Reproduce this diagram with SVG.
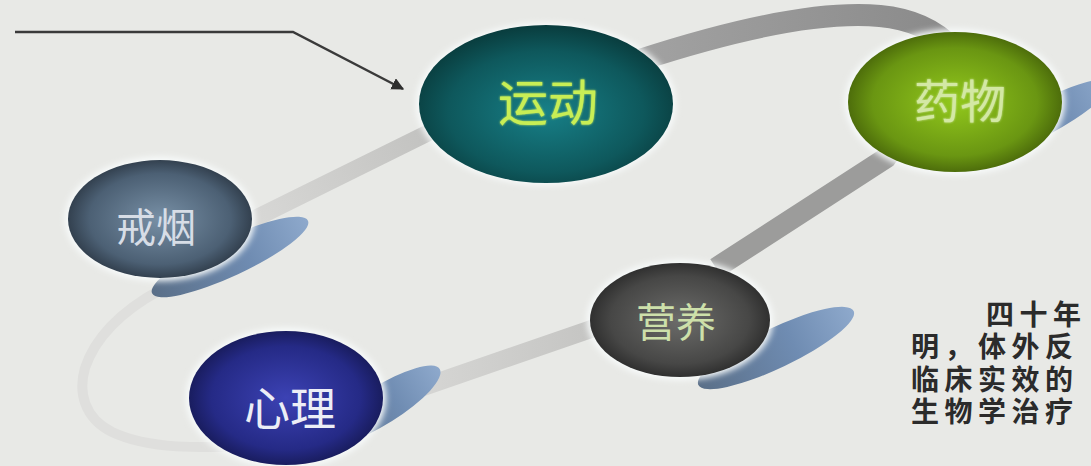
<svg xmlns="http://www.w3.org/2000/svg" width="1091" height="466" viewBox="0 0 1091 466">
  <defs>
    <style>
      .lbl { font-family: "Noto Sans CJK SC", "Noto Sans", sans-serif; text-anchor: middle; dominant-baseline: central; }
      .body { font-family: "Liberation Sans", "Noto Sans CJK SC", sans-serif; font-weight: 700; font-size: 28px; fill: #2b2b2b; letter-spacing: 5.5px; }
      .band { fill: none; stroke-linecap: butt; stroke-linejoin: round; }
      .halo { fill: #f8fbfb; filter: url(#blur); }
      .shadow { fill: url(#gShadow); }
    </style>
    <filter id="blur" x="-20%" y="-20%" width="140%" height="140%">
      <feGaussianBlur stdDeviation="3"/>
    </filter>
    <filter id="glow" x="-20%" y="-20%" width="140%" height="140%">
      <feGaussianBlur stdDeviation="1.2" result="b"/>
      <feMerge><feMergeNode in="b"/><feMergeNode in="SourceGraphic"/></feMerge>
    </filter>
    <radialGradient id="gYd" cx="50%" cy="55%" r="55%">
      <stop offset="0" stop-color="#178088"/>
      <stop offset="0.7" stop-color="#0e585c"/>
      <stop offset="1" stop-color="#093c3d"/>
    </radialGradient>
    <radialGradient id="gYw" cx="50%" cy="50%" r="55%">
      <stop offset="0" stop-color="#92c81c"/>
      <stop offset="0.7" stop-color="#6a9612"/>
      <stop offset="1" stop-color="#415c08"/>
    </radialGradient>
    <radialGradient id="gJy" cx="50%" cy="50%" r="55%">
      <stop offset="0" stop-color="#7890a6"/>
      <stop offset="0.7" stop-color="#4c6074"/>
      <stop offset="1" stop-color="#28333f"/>
    </radialGradient>
    <radialGradient id="gXl" cx="50%" cy="50%" r="55%">
      <stop offset="0" stop-color="#3c42b4"/>
      <stop offset="0.7" stop-color="#252a86"/>
      <stop offset="1" stop-color="#14174e"/>
    </radialGradient>
    <radialGradient id="gYy" cx="50%" cy="50%" r="55%">
      <stop offset="0" stop-color="#6c6c6a"/>
      <stop offset="0.7" stop-color="#474746"/>
      <stop offset="1" stop-color="#262626"/>
    </radialGradient>
    <linearGradient id="gShadow" x1="0" y1="0" x2="1" y2="0">
      <stop offset="0" stop-color="#5a6f88"/>
      <stop offset="0.6" stop-color="#6f8cb2"/>
      <stop offset="1" stop-color="#8ea9cc"/>
    </linearGradient>
    <linearGradient id="gBandL" gradientUnits="userSpaceOnUse" x1="250" y1="220" x2="430" y2="130">
      <stop offset="0" stop-color="#d8d8d6"/>
      <stop offset="1" stop-color="#c2c2c0"/>
    </linearGradient>
    <linearGradient id="gBandT" gradientUnits="userSpaceOnUse" x1="640" y1="0" x2="950" y2="0">
      <stop offset="0" stop-color="#a2a2a2"/>
      <stop offset="1" stop-color="#8a8a8a"/>
    </linearGradient>
    <linearGradient id="gBandB" gradientUnits="userSpaceOnUse" x1="380" y1="0" x2="600" y2="0">
      <stop offset="0" stop-color="#dadad8"/>
      <stop offset="1" stop-color="#c4c4c2"/>
    </linearGradient>
    <marker id="arrow" viewBox="0 0 10 10" refX="9" refY="5" markerWidth="5" markerHeight="5" orient="auto">
      <path d="M0,0 L10,5 L0,10 z" fill="#2e2e2e"/>
    </marker>
  </defs>

  <rect width="1091" height="466" fill="#e8e9e6"/>

  <g id="connectors">
    <path class="band" d="M 250 221 L 432 131" stroke="url(#gBandL)" stroke-width="17"/>
    <path class="band" d="M 540 100 L 640 60 C 720 34, 815 10, 880 16 C 912 19, 935 30, 952 48" stroke="url(#gBandT)" stroke-width="22"/>
    <path class="band" d="M 952 48 L 886 158 L 716 268" stroke="#9c9c9b" stroke-width="21"/>
    <path class="band" d="M 680 300 L 600 326 L 380 402" stroke="url(#gBandB)" stroke-width="18"/>
    <path class="band" d="M 270 446 C 200 448, 150 450, 112 432 C 84 418, 78 392, 85 368 C 95 338, 120 312, 160 290 L 250 221" stroke="#dfdfdd" stroke-width="10"/>
    <path d="M 15 32 L 293 32 L 403 89" fill="none" stroke="#3a3a3a" stroke-width="2.5" stroke-linejoin="miter" marker-end="url(#arrow)"/>
  </g>

  <g id="shadows">
    <ellipse class="shadow" cx="230" cy="257" rx="86" ry="19" transform="rotate(-25 230 257)"/>
    <ellipse class="shadow" cx="776" cy="348" rx="86" ry="20" transform="rotate(-25.5 776 348)"/>
    <ellipse class="shadow" cx="382" cy="405" rx="68" ry="19" transform="rotate(-32 382 405)"/>
    <ellipse class="shadow" cx="1040" cy="120" rx="80" ry="17" transform="rotate(-28 1040 120)"/>
  </g>

  <g id="node-yundong">
    <ellipse class="halo" cx="546" cy="104" rx="130" ry="81"/>
    <ellipse cx="546" cy="104" rx="127" ry="79" fill="url(#gYd)"/>
    <text class="lbl" x="548" y="99" font-size="50" fill="#c8ee55" filter="url(#glow)">运动</text>
  </g>

  <g id="node-yaowu">
    <ellipse class="halo" cx="955" cy="102" rx="110" ry="73"/>
    <ellipse cx="955" cy="102" rx="107" ry="70" fill="url(#gYw)"/>
    <text class="lbl" x="960" y="98" font-size="46" fill="#d3e8a4" filter="url(#glow)">药物</text>
  </g>

  <g id="node-jieyan">
    <ellipse class="halo" cx="160" cy="219" rx="95" ry="62"/>
    <ellipse cx="160" cy="219" rx="92" ry="59" fill="url(#gJy)"/>
    <text class="lbl" x="156" y="225" font-size="40" fill="#d7dde6">戒烟</text>
  </g>

  <g id="node-xinli">
    <ellipse class="halo" cx="286" cy="398" rx="100" ry="70"/>
    <ellipse cx="286" cy="398" rx="97" ry="67" fill="url(#gXl)"/>
    <text class="lbl" x="290" y="405" font-size="46" fill="#eceef6">心理</text>
  </g>

  <g id="node-yingyang">
    <ellipse class="halo" cx="680" cy="320" rx="93" ry="60"/>
    <ellipse cx="680" cy="320" rx="90" ry="57" fill="url(#gYy)"/>
    <text class="lbl" x="676" y="320" font-size="40" fill="#cde0aa">营养</text>
  </g>

  <g id="text-block">
    <text class="body" x="986" y="325">四十年</text>
    <text class="body" x="911" y="357">明，体外反</text>
    <text class="body" x="911" y="390">临床实效的</text>
    <text class="body" x="911" y="422">生物学治疗</text>
  </g>
</svg>
